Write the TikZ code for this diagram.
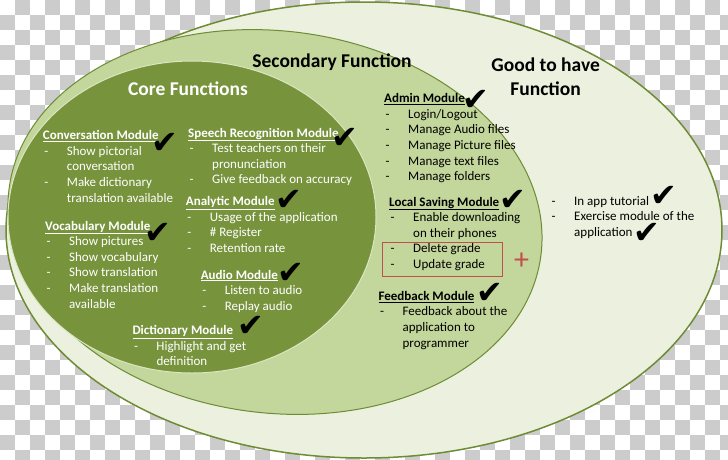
\documentclass[tikz,border=0pt]{standalone}
\usepackage{fontspec}
\setmainfont{Carlito}
\newfontfamily\chkfont{DejaVu Sans}
\definecolor{corefill}{HTML}{77933C}
\definecolor{secfill}{HTML}{C3D69B}
\definecolor{gthfill}{HTML}{EBF1DE}
\definecolor{rim}{HTML}{6E8B35}
\definecolor{chkgrey}{HTML}{CCCCCC}
\definecolor{redbox}{HTML}{C0504D}
\newlength\dw \setlength\dw{22.5pt}
\newcommand\hdl[1]{\hbox{\bfseries\underline{#1}}}
\newcommand\itm[1]{\hbox{\hspace*{1.5pt}\makebox[\dw][l]{-}#1}}
\newcommand\cnt[1]{\hbox{\hspace*{1.5pt}\hspace*{\dw}#1}}
\newcommand\blk[1]{\vtop{\baselineskip=15.6pt\lineskiplimit=-10pt #1}}
\begin{document}
\begin{tikzpicture}[x=1pt,y=-1pt,
  txt/.style={anchor=base west, inner sep=0pt, font=\fontsize{13}{15.6}\selectfont},
  wtxt/.style={txt, text=white},
  ttl/.style={anchor=center, inner sep=0pt, font=\fontsize{19.5}{22}\selectfont\bfseries},
  tick/.style={inner sep=0pt, font=\chkfont\fontsize{32}{32}\selectfont},
]
\useasboundingbox (0,0) rectangle (728,459);
% transparency checkerboard
\fill[white] (0,0) rectangle (728,459);
\foreach \j in {0,...,30}{
  \pgfmathtruncatemacro\s{mod(\j+1,2)}
  \pgfmathtruncatemacro\t{\s+2}
  \foreach \i in {\s,\t,...,48}{
    \fill[chkgrey] (\i*15,\j*15) rectangle ++(15,15);
  }
}
% ellipses
\filldraw[fill=gthfill, draw=rim, line width=1.5pt] (364,230) ellipse [x radius=358pt, y radius=228pt];
\filldraw[fill=secfill, draw=rim, line width=1pt, rotate around={-7:(275,222)}] (275,222) ellipse [x radius=268pt, y radius=191pt];
\filldraw[fill=corefill, draw=secfill!60!white, line width=1pt] (192,217) ellipse [x radius=184pt, y radius=156pt];

% titles
\node[ttl, text=white] (tcore) at (188,88.3) {Core Functions};
\node[ttl] (tsec) at (332,62) {Secondary Function};
\node[ttl] (tgood1) at (545.6,65) {Good to have};
\node[ttl] (tgood2) at (545.6,88.3) {Function};

% core modules
\node[wtxt] (conv) at (42.7,139.7) {\blk{\hdl{Conversation Module}\itm{Show pictorial}\cnt{conversation}\itm{Make dictionary}\cnt{translation available}}};
\node[wtxt] (voc) at (45,230) {\blk{\hdl{Vocabulary Module}\itm{Show pictures}\itm{Show vocabulary}\itm{Show translation}\itm{Make translation}\cnt{available}}};
\node[wtxt] (speech) at (188,137) {\blk{\hdl{Speech Recognition Module}\itm{Test teachers on their}\cnt{pronunciation}\itm{Give feedback on accuracy}}};
\node[wtxt] (anal) at (185.7,205.7) {\blk{\hdl{Analytic Module}\itm{Usage of the application}\itm{\# Register}\itm{Retention rate}}};
\node[wtxt] (audio) at (200.6,279) {\blk{\hdl{Audio Module}\itm{Listen to audio}\itm{Replay audio}}};
\node[wtxt] (dict) at (132.3,334.7) {\blk{\hdl{Dictionary Module}\itm{Highlight and get}\cnt{definition}}};

% secondary modules
\node[txt] (admin) at (384,102.7) {\blk{\hdl{Admin Module}\itm{Login/Logout}\itm{Manage Audio files}\itm{Manage Picture files}\itm{Manage text files}\itm{Manage folders}}};
\node[txt] (local) at (389,206) {\blk{\hdl{Local Saving Module}\itm{Enable downloading}\cnt{on their phones}\itm{Delete grade}\itm{Update grade}}};
\node[txt] (feed) at (378.4,300.3) {\blk{\hdl{Feedback Module}\itm{Feedback about the}\cnt{application to}\cnt{programmer}}};
\node[draw=redbox, line width=1.3pt, minimum width=120pt, minimum height=34pt, anchor=north west, inner sep=0pt] (rbox) at (382,242) {};
\node[text=redbox, inner sep=0pt, font=\fontsize{30}{30}\selectfont] (plus) at (521.7,261) {+};

% good to have
\node[txt] (good) at (550,205.3) {\blk{\itm{In app tutorial}\itm{Exercise module of the}\cnt{application}}};

% check marks
\node[tick] (c1) at (164.8,143.3) {✔};
\node[tick] (c2) at (157.8,233.3) {✔};
\node[tick] (c3) at (344.5,138.3) {✔};
\node[tick] (c4) at (288.8,200) {✔};
\node[tick] (c5) at (291,273) {✔};
\node[tick] (c6) at (250.7,326.7) {✔};
\node[tick] (c7) at (475.9,100) {✔};
\node[tick] (c8) at (513,200) {✔};
\node[tick] (c9) at (489.8,293.3) {✔};
\node[tick] (c10) at (664,196.7) {✔};
\node[tick] (c11) at (646.7,233.3) {✔};
\end{tikzpicture}
\end{document}
